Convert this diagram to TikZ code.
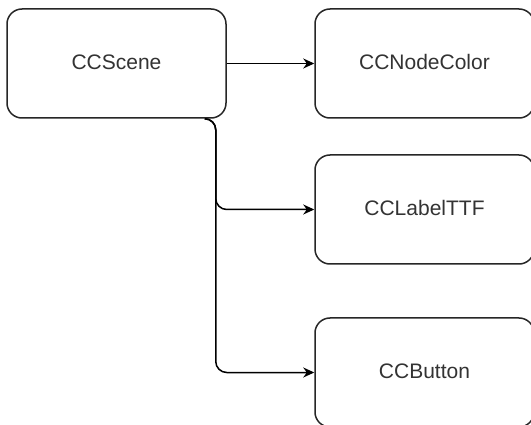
\documentclass[tikz,border=0pt]{standalone}
\usepackage{fontspec}
\setmainfont{Liberation Sans}
\usetikzlibrary{arrows.meta}
\newcommand{\boxtext}[1]{\raisebox{3pt}{#1}}
\begin{document}
\begin{tikzpicture}[x=1pt,y=-1pt,
  classbox/.style={draw=black!85, line width=1.5pt, rounded corners=15pt,
    minimum width=219pt, minimum height=109pt, inner sep=0pt,
    font=\fontsize{21}{25}\selectfont, text=black!80},
  conn/.style={draw=black, line width=1.5pt,
    -{Stealth[length=11pt,width=10pt,inset=3.5pt]}}]
  \useasboundingbox (0,0) rectangle (531,425);
  \clip (0,0) rectangle (531,425);
  \fill[white] (0,0) rectangle (531,425);

  % classes
  \node[classbox] (scene) at (116.5,63.5) {\boxtext{CCScene}};
  \node[classbox] (nodecolor) at (424.5,63.5) {\boxtext{CCNodeColor}};
  \node[classbox] (label) at (424.5,209.5) {\boxtext{CCLabelTTF}};
  \node[classbox] (button) at (424.5,372.5) {\boxtext{CCButton}};

  % links
  \draw[conn] (scene.east) -- (nodecolor.west);
  \draw[conn, rounded corners=11pt] ([xshift=-22pt]scene.south east) -- ++(11,0) |- (label.west);
  \draw[conn, rounded corners=11pt] ([xshift=-22pt]scene.south east) -- ++(11,0) |- (button.west);
\end{tikzpicture}
\end{document}
